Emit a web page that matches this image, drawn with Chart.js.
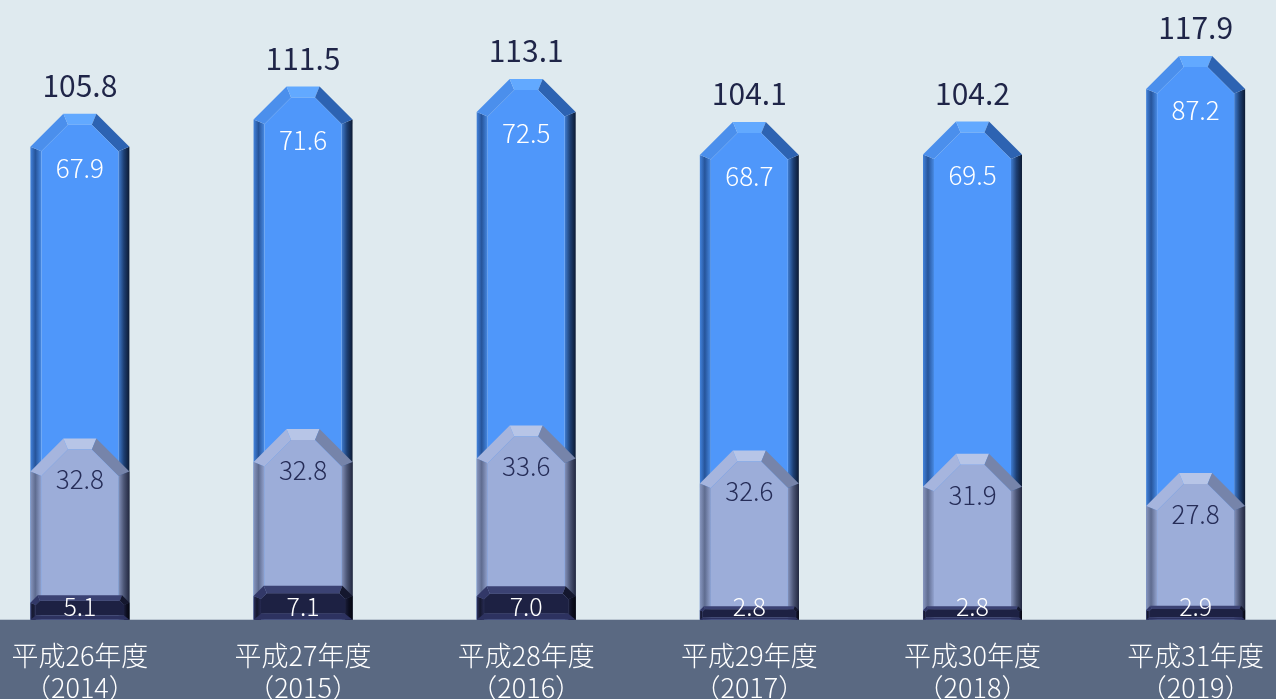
<!DOCTYPE html>
<html>
<head>
<meta charset="utf-8">
<script src="https://cdn.jsdelivr.net/npm/chart.js@4/dist/chart.umd.min.js"></script>
<style>
  html, body { margin: 0; padding: 0; background: #dfeaef; }
  #wrap { width: 1276px; height: 699px; }
</style>
</head>
<body>
<div id="wrap"><canvas id="chart" width="1276" height="699"></canvas></div>
<script>
// Data
const categories = [
	["平成26年度", "（2014）"],
	["平成27年度", "（2015）"],
	["平成28年度", "（2016）"],
	["平成29年度", "（2017）"],
	["平成30年度", "（2018）"],
	["平成31年度", "（2019）"]
];
const bottomValues = [5.1, 7.1, 7.0, 2.8, 2.8, 2.9];
const middleValues = [32.8, 32.8, 33.6, 32.6, 31.9, 27.8];
const topValues = [67.9, 71.6, 72.5, 68.7, 69.5, 87.2];
const totalValues = [105.8, 111.5, 113.1, 104.1, 104.2, 117.9];

// segments overlap from the base, so each one reaches its cumulative height
const bottomReach = bottomValues.map((v, i) => ({ x: i, y: v }));
const middleReach = bottomValues.map((v, i) => ({ x: i, y: v + middleValues[i] }));
const topReach = middleReach.map((p, i) => ({ x: i, y: p.y + topValues[i] }));

const numFont = "\"Noto Sans CJK JP\", \"Noto Sans\", sans-serif";

const palettes = {
	top: {
		face: "#4f97fa", topEdge: "#62a9ff", leftChamfer: "#4b8fec", rightChamfer: "#2d63b2",
		leftEdge: ["#4383dc", "#26549a", "#478ae4"], rightEdge: ["#3f7cd0", "#1d3f73", "#0c1a33"],
		bottomEdge: null, text: "#ffffff"
	},
	middle: {
		face: "#9cadd9", topEdge: "#b7c5e7", leftChamfer: "#a6b5de", rightChamfer: "#7684aa",
		leftEdge: ["#8796bf", "#5f6c90", "#93a3cf"], rightEdge: ["#8492bb", "#4b5575", "#222840"],
		bottomEdge: null, text: "#262d58"
	},
	bottom: {
		face: "#1d2143", topEdge: "#3b4273", leftChamfer: "#323868", rightChamfer: "#14172e",
		leftEdge: ["#2c3160", "#15182e", "#262a52"], rightEdge: ["#1a1d3a", "#0c0e20", "#05060f"],
		bottomEdge: "#2d3260", text: "#ffffff"
	}
};

function poly(ctx, pts, fill) {
	ctx.beginPath();
	ctx.moveTo(pts[0][0], pts[0][1]);
	for (let i = 1; i < pts.length; i++) ctx.lineTo(pts[i][0], pts[i][1]);
	ctx.closePath();
	ctx.fillStyle = fill;
	ctx.fill();
}

function drawBevelBar(ctx, bar, pal) {
	const L = bar.x - bar.width / 2;
	const R = bar.x + bar.width / 2;
	const top = bar.y;
	const base = bar.base;
	const h = base - top;
	const c = Math.min(33, h * 0.3);
	const b = Math.min(11, h * 0.22);
	const k = Math.max(0, c + b * Math.SQRT2 - b);

	const oL = [L, top + c], oTL = [L + c, top], oTR = [R - c, top], oR = [R, top + c];
	const iL = [L + b, top + k], iTL = [L + k, top + b], iTR = [R - k, top + b], iR = [R - b, top + k];
	const bb = pal.bottomEdge ? b * 0.8 : 0;

	const lg = ctx.createLinearGradient(L, 0, L + b, 0);
	lg.addColorStop(0, pal.leftEdge[0]);
	lg.addColorStop(0.45, pal.leftEdge[1]);
	lg.addColorStop(1, pal.leftEdge[2]);
	poly(ctx, [[L, base], oL, iL, [L + b, base]], lg);

	const rg = ctx.createLinearGradient(R - b, 0, R, 0);
	rg.addColorStop(0, pal.rightEdge[0]);
	rg.addColorStop(0.5, pal.rightEdge[1]);
	rg.addColorStop(1, pal.rightEdge[2]);
	poly(ctx, [[R - b, base], iR, oR, [R, base]], rg);

	poly(ctx, [oL, oTL, iTL, iL], pal.leftChamfer);
	poly(ctx, [oTL, oTR, iTR, iTL], pal.topEdge);
	poly(ctx, [oTR, oR, iR, iTR], pal.rightChamfer);

	poly(ctx, [[L + b, base - bb], iL, iTL, iTR, iR, [R - b, base - bb]], pal.face);
	if (bb > 0) {
		poly(ctx, [[L, base], [L + b, base - bb], [R - b, base - bb], [R, base]], pal.bottomEdge);
	}
}

const bevelPlugin = {
	id: "bevelBars",
	beforeDraw(chart) {
		const { ctx, chartArea, width, height } = chart;
		ctx.save();
		ctx.fillStyle = "#dfeaef";
		ctx.fillRect(0, 0, width, height);
		ctx.fillStyle = "#5a6982";
		ctx.fillRect(0, chartArea.bottom, width, height - chartArea.bottom);
		ctx.restore();
	},
	afterDatasetDraw(chart, args) {
		const { ctx } = chart;
		const pal = palettes[chart.data.datasets[args.index].segment];
		ctx.save();
		args.meta.data.forEach((bar) => drawBevelBar(ctx, bar, pal));
		ctx.restore();
	},
	afterDatasetsDraw(chart) {
		const { ctx } = chart;
		ctx.save();
		ctx.textAlign = "center";
		ctx.textBaseline = "middle";
		const metaTop = chart.getDatasetMeta(2);
		const metaMid = chart.getDatasetMeta(1);
		const metaBot = chart.getDatasetMeta(0);
		metaTop.data.forEach((bar, i) => {
			ctx.font = "400 30px " + numFont;
			ctx.fillStyle = "#1f2548";
			ctx.fillText(totalValues[i].toFixed(1), bar.x, bar.y - 28);
			ctx.font = "300 26px " + numFont;
			ctx.fillStyle = palettes.top.text;
			ctx.fillText(topValues[i].toFixed(1), bar.x, bar.y + 54);
		});
		metaMid.data.forEach((bar, i) => {
			ctx.font = "300 26px " + numFont;
			ctx.fillStyle = palettes.middle.text;
			ctx.fillText(middleValues[i].toFixed(1), bar.x, bar.y + 41);
		});
		metaBot.data.forEach((bar, i) => {
			ctx.font = "300 25px " + numFont;
			ctx.fillStyle = palettes.bottom.text;
			ctx.fillText(bottomValues[i].toFixed(1), bar.x, bar.base - 13);
		});
		ctx.restore();
	}
};

function buildDataset(data, segment) {
	return {
		data,
		segment,
		backgroundColor: "rgba(0,0,0,0)",
		borderWidth: 0,
		barThickness: 99,
		grouped: false,
		clip: false
	};
}

new Chart(document.getElementById("chart"), {
	type: "bar",
	data: {
		datasets: [
			buildDataset(bottomReach, "bottom"),
			buildDataset(middleReach, "middle"),
			buildDataset(topReach, "top")
		]
	},
	options: {
		responsive: false,
		animation: false,
		layout: { padding: { left: 0, right: 0, top: 0, bottom: -17 } },
		plugins: { legend: { display: false }, tooltip: { enabled: false } },
		scales: {
			x: {
				type: "linear",
				min: -79 / 225,
				max: 5 + 72 / 225,
				offset: false,
				grid: { display: false },
				border: { display: false },
				ticks: {
					stepSize: 1,
					includeBounds: false,
					autoSkip: false,
					maxRotation: 0,
					padding: 12,
					color: "#ffffff",
					font: { family: numFont, size: 27, weight: "300", lineHeight: 1.19 },
					callback: (value) => (Number.isInteger(value) && categories[value]) ? categories[value] : ""
				}
			},
			y: { display: false, min: 0, max: 129.6 }
		}
	},
	plugins: [bevelPlugin]
});
</script>
</body>
</html>
